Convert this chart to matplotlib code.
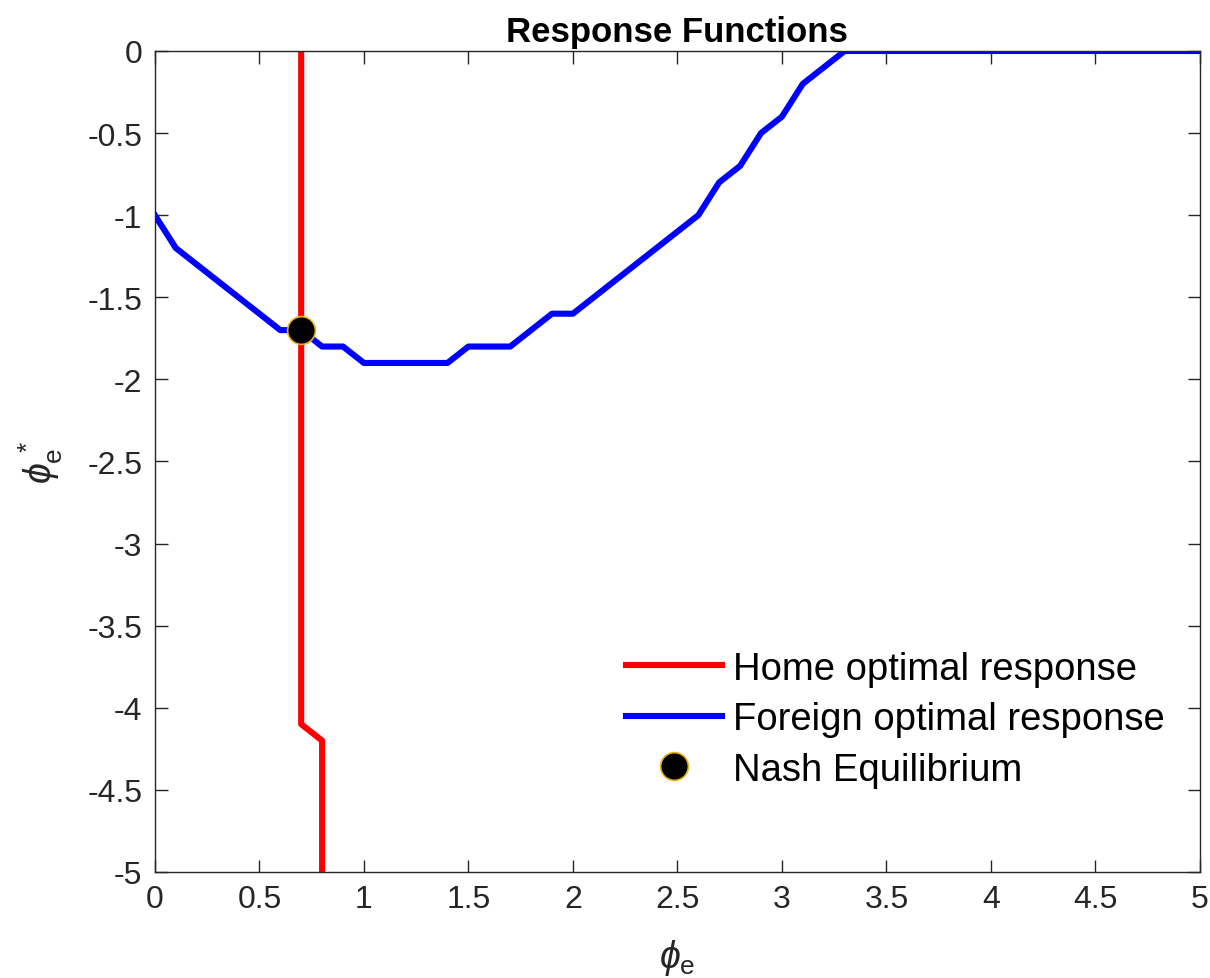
import matplotlib.pyplot as plt
import numpy as np

plt.rcParams['font.family'] = ['Liberation Sans', 'DejaVu Sans']
plt.rcParams['mathtext.fontset'] = 'custom'
plt.rcParams['mathtext.rm'] = 'Liberation Sans'
plt.rcParams['mathtext.it'] = 'Liberation Sans:italic'

# Foreign optimal response: phi_e* as a function of phi_e
foreign_x = [0.0, 0.1, 0.2, 0.3, 0.4, 0.5, 0.6, 0.7, 0.8, 0.9, 1.0, 1.1, 1.2, 1.3, 1.4,
             1.5, 1.6, 1.7, 1.8, 1.9, 2.0, 2.1, 2.2, 2.3, 2.4, 2.5, 2.6, 2.7, 2.8, 2.9,
             3.0, 3.1, 3.2, 3.3, 3.4, 3.5, 4.0, 4.5, 5.0]
foreign_y = [-1.0, -1.2, -1.3, -1.4, -1.5, -1.6, -1.7, -1.7, -1.8, -1.8, -1.9, -1.9, -1.9, -1.9, -1.9,
             -1.8, -1.8, -1.8, -1.7, -1.6, -1.6, -1.5, -1.4, -1.3, -1.2, -1.1, -1.0, -0.8, -0.7, -0.5,
             -0.4, -0.2, -0.1, 0.0, 0.0, 0.0, 0.0, 0.0, 0.0]

# Home optimal response: phi_e as a function of phi_e*
home_y = [0.0, -1.0, -2.0, -3.0, -4.0, -4.1, -4.2, -4.5, -5.0]
home_x = [0.7, 0.7, 0.7, 0.7, 0.7, 0.7, 0.8, 0.8, 0.8]

nash_x = [0.7]
nash_y = [-1.7]

fig = plt.figure(figsize=(12.1, 9.79), dpi=100)
ax = fig.add_axes([0.128, 0.1083, 0.8637, 0.8386])

ax.plot(home_x, home_y, color='#ff0000', linewidth=4.4, label='Home optimal response')
ax.plot(foreign_x, foreign_y, color='#0000ff', linewidth=4.4, label='Foreign optimal response')
ax.plot(nash_x, nash_y, 'o', color='black', markeredgecolor='#EDB120', markeredgewidth=1.2,
        markersize=20, linestyle='none', label='Nash Equilibrium')

ax.set_xlim(0, 5)
ax.set_ylim(-5, 0)
ax.set_xticks(np.arange(0, 5.01, 0.5))
ax.set_xticklabels(['0', '0.5', '1', '1.5', '2', '2.5', '3', '3.5', '4', '4.5', '5'])
ax.set_yticks(np.arange(-5, 0.01, 0.5))
ax.set_yticklabels(['-5', '-4.5', '-4', '-3.5', '-3', '-2.5', '-2', '-1.5', '-1', '-0.5', '0'])
ax.tick_params(direction='in', length=9, width=1, top=True, right=True,
               labelsize=23, colors='#262626', pad=9)
for s in ax.spines.values():
    s.set_color('#262626')
    s.set_linewidth(1)

ax.set_title('Response Functions', fontsize=25, fontweight='bold', pad=7)
ax.set_xlabel(r'$\phi_{\mathrm{e}}$', fontsize=27, color='#262626', labelpad=16)
ax.set_ylabel(r'$\phi_{\mathrm{e}}^{\,*}$', fontsize=27, color='#262626', labelpad=16)

leg = ax.legend(loc='lower right', bbox_to_anchor=(0.992, 0.07), frameon=False, fontsize=27.5,
                handlelength=2.5, handletextpad=0.3, labelspacing=0.38, borderpad=0.2)

fig.savefig('out.png', dpi=100)
